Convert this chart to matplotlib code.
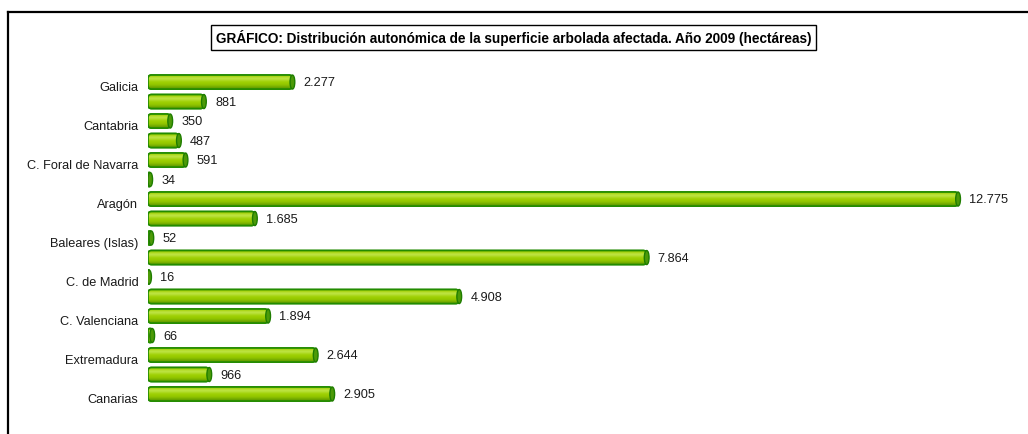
import numpy as np
import matplotlib
matplotlib.use("Agg")
import matplotlib.pyplot as plt
from matplotlib.patches import FancyBboxPatch, Ellipse
from matplotlib.lines import Line2D
from matplotlib.transforms import ScaledTranslation

# Superficie arbolada afectada por comunidad autónoma, 2009 (ha)
regions = [
    "Galicia", "Asturias (Principado de)", "Cantabria", "País Vasco",
    "C. Foral de Navarra", "La Rioja", "Aragón", "Cataluña",
    "Baleares (Islas)", "Castilla y León", "C. de Madrid",
    "Castilla-La Mancha", "C. Valenciana", "Región de Murcia",
    "Extremadura", "Andalucía", "Canarias",
]
hectares = [2277, 881, 350, 487, 591, 34, 12775, 1685, 52, 7864,
            16, 4908, 1894, 66, 2644, 966, 2905]

title = ("GRÁFICO: Distribución autonómica de la superficie arbolada "
         "afectada. Año 2009 (hectáreas)")


def fmt_es(v):
    return f"{v:,}".replace(",", ".")


def make_chart():
    plt.rcParams['font.family'] = ['Liberation Sans', 'DejaVu Sans']

    fig = plt.figure(figsize=(10.28, 4.35), dpi=100)
    ax = fig.add_axes([0.144, 0.0695, 0.8327, 0.762])

    n = len(regions)
    ypos = np.arange(n)[::-1]          # Galicia on top
    bar_h = 0.72
    xmax = 13500

    # vertical shading for the cylinder look (bottom -> top)
    shade = np.array([
        [0.38, 0.60, 0.00],
        [0.47, 0.69, 0.00],
        [0.57, 0.77, 0.00],
        [0.60, 0.80, 0.00],
        [0.63, 0.82, 0.03],
        [0.70, 0.87, 0.18],
        [0.76, 0.90, 0.30],
        [0.67, 0.84, 0.08],
        [0.58, 0.78, 0.00],
    ])
    grad = shade[:, None, :]

    r_x = 55.0
    aspect = 0.18 / 55.0
    cap_w = 75.0

    for y, v in zip(ypos, hectares):
        r = min(r_x, v / 2.0)
        body = FancyBboxPatch((0, y - bar_h / 2), v, bar_h,
                              boxstyle=f"round,pad=0,rounding_size={r}",
                              mutation_aspect=aspect,
                              facecolor='#99cc00', edgecolor='#228b00',
                              linewidth=1.2, zorder=2)
        ax.add_patch(body)
        im = ax.imshow(grad, extent=(0, v, y - bar_h / 2, y + bar_h / 2),
                       origin='lower', aspect='auto', interpolation='bicubic',
                       zorder=2.5)
        im.set_clip_path(body)
        # outline again on top of the shading
        edge = FancyBboxPatch((0, y - bar_h / 2), v, bar_h,
                              boxstyle=f"round,pad=0,rounding_size={r}",
                              mutation_aspect=aspect,
                              facecolor='none', edgecolor='#228b00',
                              linewidth=1.2, zorder=3)
        ax.add_patch(edge)
        cap = Ellipse((v, y), cap_w, bar_h, facecolor='#4c9a08',
                      edgecolor='#1f7d00', linewidth=1.0, zorder=4)
        ax.add_patch(cap)

        ax.annotate(fmt_es(v), xy=(v, y), xytext=(8, 0),
                    textcoords='offset points', ha='left', va='center',
                    fontsize=9.2, color='#1a1a1a')

    ax.set_xlim(0, xmax)
    ax.set_ylim(-0.5, n - 0.5)

    # every other category is labelled
    ax.set_yticks(ypos[::2])
    ax.set_yticklabels(regions[::2], fontsize=9.2, color='#1a1a1a')
    ax.tick_params(axis='y', length=0, pad=7)
    ax.set_xticks([])
    for lbl in ax.get_yticklabels():
        lbl.set_transform(lbl.get_transform()
                          + ScaledTranslation(0, -0.035, fig.dpi_scale_trans))
    for s in ax.spines.values():
        s.set_visible(False)

    fig.text(0.4995, 0.9115, title, ha='center', va='center',
             fontsize=9.8, fontweight='bold',
             bbox=dict(boxstyle='square,pad=0.33', fc='white', ec='black',
                       lw=1.0))

    # outer frame (top and left edges)
    fx = 7.5 / 1028
    fy = 1 - 12.5 / 435
    fig.add_artist(Line2D([fx, fx], [0, fy], transform=fig.transFigure,
                          color='black', lw=1.6))
    fig.add_artist(Line2D([fx, 1], [fy, fy], transform=fig.transFigure,
                          color='black', lw=1.6))

    fig.savefig('out.png', dpi=100, facecolor='white')


if __name__ == "__main__":
    make_chart()
